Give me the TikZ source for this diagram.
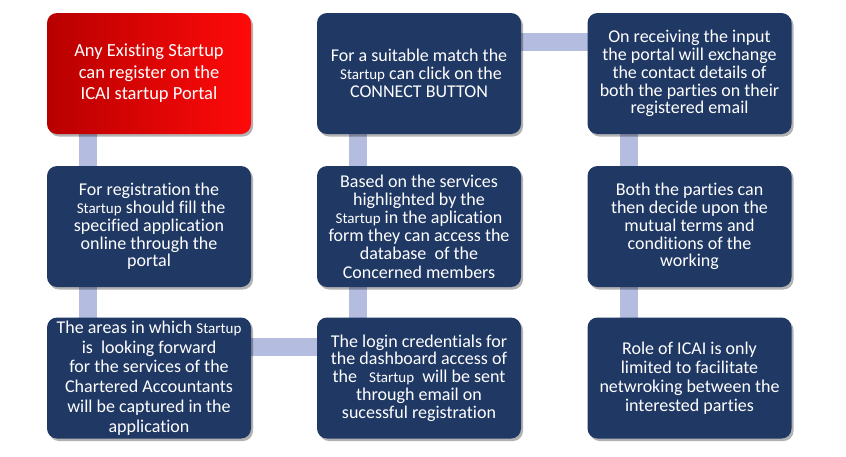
\documentclass[tikz,border=0pt]{standalone}
\usepackage{fontspec}
\setmainfont{Carlito}[Ligatures=NoCommon]
\usetikzlibrary{shadows,backgrounds}
\pgfdeclarelayer{paper}
\pgfsetlayers{paper,background,main}
\definecolor{navy}{HTML}{203864}
\definecolor{barc}{HTML}{B4BDDF}
\definecolor{darkred}{HTML}{B80000}
\definecolor{brightred}{HTML}{FF0A0A}
\newcommand\su{{\fontsize{15}{15}\selectfont Startup}}
\tikzset{
  box/.style={rectangle, rounded corners=10pt, minimum width=204pt, minimum height=121pt,
    inner sep=0pt, align=center, text=white, fill=navy,
    font=\fontsize{18}{17.8}\selectfont,
    drop shadow={shadow xshift=2pt, shadow yshift=-2.5pt, opacity=0.3, fill=black}},
  redbox/.style={box, fill=none, left color=darkred, right color=brightred,
    font=\fontsize{18.5}{21.5}\selectfont},
  bar/.style={line width=18pt, draw=barc}
}
\begin{document}
\begin{tikzpicture}[x=1pt,y=1pt]
\begin{pgfonlayer}{paper}
\fill[white] (0,0) rectangle (846,-456);
\end{pgfonlayer}
\useasboundingbox (0,0) rectangle (846,-456);
\node[redbox] (b1) at (149,-73.5) {Any Existing Startup\\can register on the\\ICAI startup Portal};
\node[box] (b2) at (149,-226.5) {For registration the\\\ \su{} should fill the\\specified application\\online through the\\portal};
\node[box, font=\fontsize{18}{19.8}\selectfont] (b3) at (149,-378) {The areas in which \su\\is\ \ looking forward\\for the services of the\\Chartered Accountants\\will be captured in the\\application};
\node[box] (b4) at (419,-378) {The login credentials for\\the dashboard access of\\the\ \ \ \su\ \ will be sent\\through email on\\sucessful registration};
\node[box, font=\fontsize{18}{18.2}\selectfont] (b5) at (419,-226.5) {Based on the services\\highlighted by the\\\su{} in the aplication\\form they can access the\\database\ \ of the\\Concerned members};
\node[box] (b6) at (419,-73.5) {For a suitable match the\\\ \su{} can click on the\\CONNECT BUTTON};
\node[box] (b7) at (689.5,-73.5) {On receiving the input\\the portal will exchange\\the contact details of\\both the parties on their\\registered email};
\node[box] (b8) at (689.5,-226.5) {Both the parties can\\then decide upon the\\mutual terms and\\conditions of the\\working};
\node[box, font=\fontsize{18}{19}\selectfont] (b9) at (689.5,-378) {Role of ICAI is only\\limited to facilitate\\netwroking between the\\interested parties};
\begin{pgfonlayer}{background}
\draw[bar] ([xshift=-61pt]b1.center) -- ([xshift=-61pt]b3.center);
\draw[bar] ([xshift=-61pt]b6.center) -- ([xshift=-61pt]b4.center);
\draw[bar] ([xshift=-61pt]b7.center) -- ([xshift=-61pt]b9.center);
\draw[bar] ([yshift=31.5pt]b3.center) -- ([yshift=31.5pt]b4.center);
\draw[bar] ([yshift=32pt]b6.center) -- ([yshift=32pt]b7.center);
\end{pgfonlayer}
\end{tikzpicture}
\end{document}
